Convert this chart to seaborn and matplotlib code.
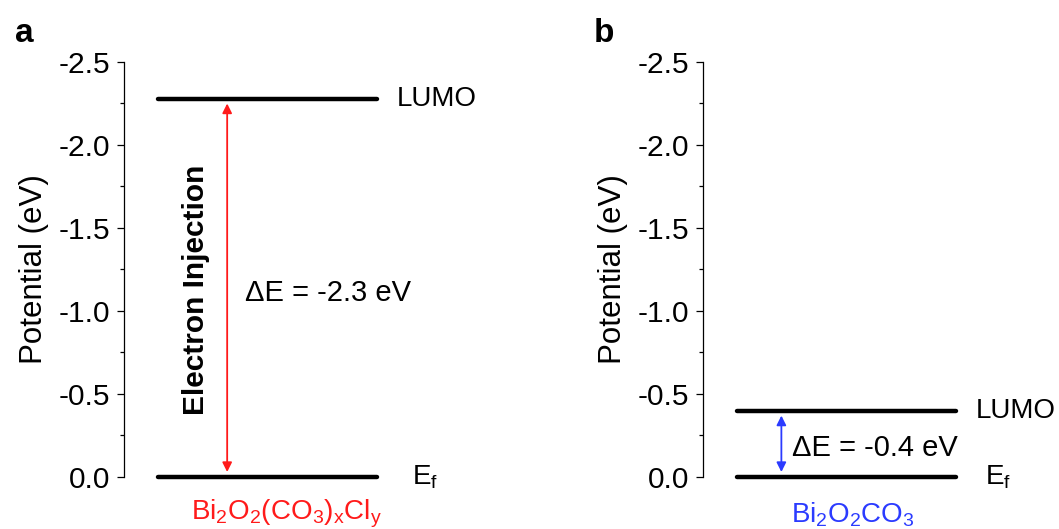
import matplotlib
matplotlib.use("Agg")
import matplotlib.pyplot as plt
import seaborn as sns
import pandas as pd

# ---- data ----
panels = ["a", "b"]
materials = ["Bi$_2$O$_2$(CO$_3$)$_x$Cl$_y$", "Bi$_2$O$_2$CO$_3$"]
material_colors = ["#FF1A1A", "#2B3BFF"]
lumo_levels = [-2.28, -0.40]
fermi_levels = [0.0, 0.0]
delta_labels = ["ΔE = -2.3 eV", "ΔE = -0.4 eV"]
yticks = [0.0, -0.5, -1.0, -1.5, -2.0, -2.5]
ytick_labels = ["0.0", "-0.5", "-1.0", "-1.5", "-2.0", "-2.5"]

sns.set_theme(style="ticks")
plt.rcParams["font.family"] = ["Liberation Sans", "DejaVu Sans"]
plt.rcParams["mathtext.fontset"] = "custom"
plt.rcParams["mathtext.rm"] = "Liberation Sans"
plt.rcParams["mathtext.it"] = "Liberation Sans"
plt.rcParams["text.color"] = "black"
plt.rcParams["axes.labelcolor"] = "black"
plt.rcParams["ytick.color"] = "black"

FS = 20
fig = plt.figure(figsize=(10.59, 5.29), dpi=100)
lefts = [0.1171, 0.6638]
axes = [fig.add_axes([l, 0.0983, 0.3425, 0.7845]) for l in lefts]

# text offsets per panel (x in data units, relative to level line centre)
dE_pos = [(-0.103, -1.11), (-0.248, -0.175)]
arrow_x = [-0.185, -0.298]
lumo_x = [0.59, 0.59]
ef_x = [0.66, 0.63]
label_x = [0.085, 0.03]

for i, ax in enumerate(axes):
    df = pd.DataFrame({
        "x": [-0.5, 0.5, -0.5, 0.5],
        "E": [lumo_levels[i], lumo_levels[i], fermi_levels[i], fermi_levels[i]],
        "level": ["LUMO", "LUMO", "Ef", "Ef"],
    })
    sns.lineplot(data=df, x="x", y="E", units="level", estimator=None,
                 color="black", lw=3.2, ax=ax, legend=False)
    for ln in ax.get_lines():
        ln.set_clip_on(False)
    ax.set_xlim(-0.656, 1.0)
    ax.set_ylim(0.0, -2.5)
    ax.set_yticks(yticks)
    ax.set_yticklabels(ytick_labels, fontsize=21.5)
    ax.set_yticks([-0.25, -0.75, -1.25, -1.75, -2.25], minor=True)
    ax.tick_params(axis="y", which="major", direction="out", length=5, width=0.9,
                   pad=5, colors="black")
    ax.tick_params(axis="y", which="minor", direction="out", length=3, width=0.9,
                   colors="black")
    ax.set_xticks([])
    ax.set_xlabel("")
    ax.set_ylabel("Potential (eV)", fontsize=22.5, labelpad=7, color="black")
    for s in ["top", "right", "bottom"]:
        ax.spines[s].set_visible(False)
    ax.spines["left"].set_linewidth(0.9)
    ax.spines["left"].set_color("black")

    # arrow
    ax.annotate("", xy=(arrow_x[i], lumo_levels[i] + 0.03),
                xytext=(arrow_x[i], fermi_levels[i] - 0.03),
                arrowprops=dict(arrowstyle="<|-|>", color=material_colors[i],
                                lw=1.3, mutation_scale=14, shrinkA=0, shrinkB=0),
                annotation_clip=False)
    ax.text(dE_pos[i][0], dE_pos[i][1], delta_labels[i], fontsize=21,
            ha="left", va="center", clip_on=False)
    ax.text(lumo_x[i], lumo_levels[i], "LUMO", fontsize=FS, ha="left",
            va="center", clip_on=False)
    ax.text(ef_x[i], fermi_levels[i], "E$_\\mathregular{f}$", fontsize=FS, ha="left",
            va="center", clip_on=False)
    ax.text(label_x[i], 0.225, materials[i], fontsize=FS, ha="center",
            va="center", color=material_colors[i], clip_on=False)
    ax.text(-0.30, 1.048, panels[i], transform=ax.transAxes, fontsize=24,
            fontweight="bold", ha="left", va="baseline")

axes[0].text(-0.326, -1.127, "Electron Injection", rotation=90, fontsize=21.5,
             fontweight="bold", ha="center", va="center")

fig.savefig("out.png", dpi=100)
